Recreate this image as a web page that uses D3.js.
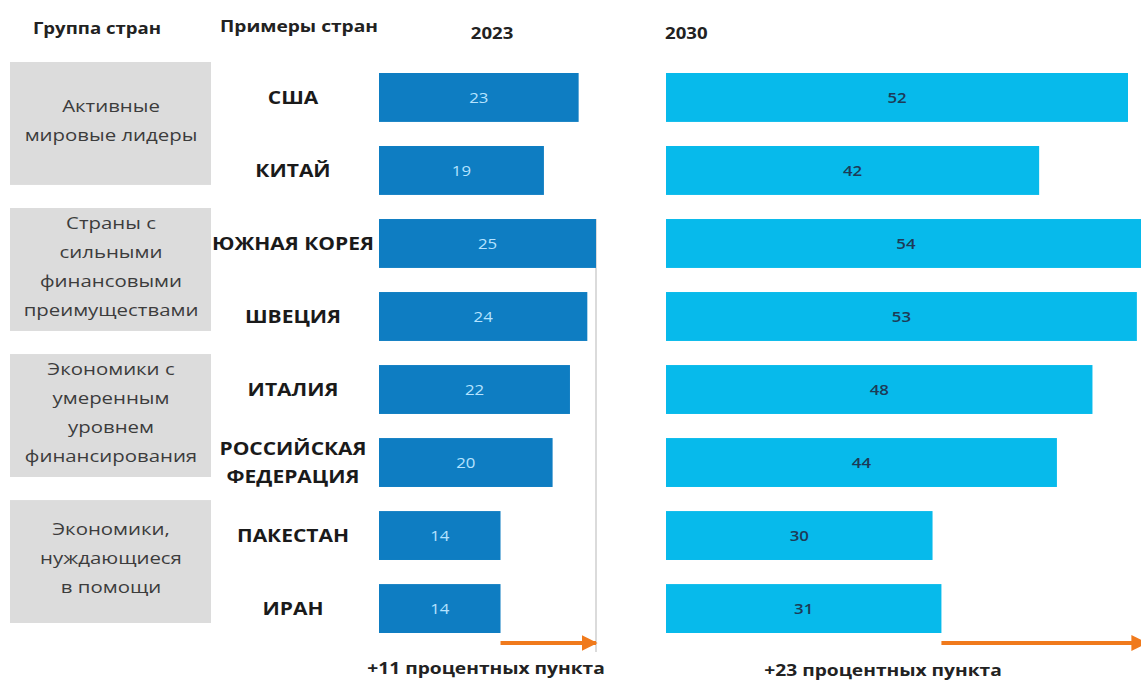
<!DOCTYPE html>
<html>
<head>
<meta charset="utf-8">
<script src="https://cdn.jsdelivr.net/npm/d3@7"></script>
<style>
  body { margin: 0; background: #fff; }
  text { font-family: "Open Sans", sans-serif; }
</style>
</head>
<body>
<div id="wrapper"></div>
<script>
// data
const countries = ["США", "КИТАЙ", "ЮЖНАЯ КОРЕЯ", "ШВЕЦИЯ", "ИТАЛИЯ", "РОССИЙСКАЯ ФЕДЕРАЦИЯ", "ПАКЕСТАН", "ИРАН"]
const countryLines = [["США"], ["КИТАЙ"], ["ЮЖНАЯ КОРЕЯ"], ["ШВЕЦИЯ"], ["ИТАЛИЯ"], ["РОССИЙСКАЯ", "ФЕДЕРАЦИЯ"], ["ПАКЕСТАН"], ["ИРАН"]]
const values2023 = [23, 19, 25, 24, 22, 20, 14, 14]
const values2030 = [52, 42, 54, 53, 48, 44, 30, 31]
const groupLabels = [
  ["Активные", "мировые лидеры"],
  ["Страны с", "сильными", "финансовыми", "преимуществами"],
  ["Экономики с", "умеренным", "уровнем", "финансирования"],
  ["Экономики,", "нуждающиеся", "в помощи"],
]
const headers = ["Группа стран", "Примеры стран", "2023", "2030"]
const deltaLabels = ["+11 процентных пункта", "+23 процентных пункта"]

function drawChart() {
  const width = 1141
  const height = 682
  const stretch = 1.2

  const svg = d3.select("#wrapper")
    .append("svg")
      .attr("width", width)
      .attr("height", height)

  // stretched text helper
  const addText = (sel, x, y, str, size, weight, color, anchor) => sel.append("text")
      .attr("transform", `translate(${x},${y}) scale(${stretch},1)`)
      .attr("text-anchor", anchor || "middle")
      .attr("dominant-baseline", "central")
      .style("font-size", size + "px")
      .style("font-weight", weight)
      .attr("fill", color)
      .text(str)

  // scales
  const yScale = d3.scaleBand()
    .domain(d3.range(countries.length))
    .range([73, 633])
    .paddingInner(0.33)
    .paddingOuter(0)

  const xLeft = d3.scaleLinear()
    .domain([0, 25])
    .range([379, 596])

  const xRight = d3.scaleLinear()
    .domain([0, 52])
    .range([666, 1128])

  // headers
  addText(svg, 97, 28, headers[0], 15.5, 700, "#222")
  addText(svg, 299, 26, headers[1], 16, 700, "#222")
  addText(svg, 492, 33, headers[2], 15.5, 700, "#222")
  addText(svg, 665, 33, headers[3], 15.5, 700, "#222", "start")

  // group boxes
  groupLabels.forEach((lines, i) => {
    const top = yScale(i * 2) - 11
    const bottom = yScale(i * 2 + 1) + yScale.bandwidth() - 10
    svg.append("rect")
        .attr("x", 10)
        .attr("y", top)
        .attr("width", 201)
        .attr("height", bottom - top)
        .attr("fill", "#dcdcdc")
    const lh = 29
    const cy = (top + bottom) / 2 - 4 - (lines.length - 1) * lh / 2
    lines.forEach((l, j) => addText(svg, 111, cy + j * lh, l, 17, 400, "#3c3c3c"))
  })

  // country labels
  countryLines.forEach((lines, i) => {
    const cy = yScale(i) + yScale.bandwidth() / 2 - (lines.length - 1) * 14
    lines.forEach((l, j) => addText(svg, 293, cy + j * 28, l, 17.5, 700, "#1a1a1a"))
  })

  // vertical reference line for 2023
  svg.append("line")
      .attr("x1", xLeft(d3.max(values2023)))
      .attr("x2", xLeft(d3.max(values2023)))
      .attr("y1", yScale(2))
      .attr("y2", 652)
      .attr("stroke", "#cfcfcf")
      .attr("stroke-width", 1.5)

  // bars 2023
  svg.append("g").selectAll("rect")
    .data(values2023)
    .join("rect")
      .attr("x", xLeft(0))
      .attr("y", (d, i) => yScale(i))
      .attr("width", d => xLeft(d) - xLeft(0))
      .attr("height", yScale.bandwidth())
      .attr("fill", "#0e7dc2")

  values2023.forEach((d, i) => addText(svg, (xLeft(0) + xLeft(d)) / 2, yScale(i) + yScale.bandwidth() / 2, d, 14, 400, "#b5e3ff"))

  // bars 2030
  svg.append("g").selectAll("rect")
    .data(values2030)
    .join("rect")
      .attr("x", xRight(0))
      .attr("y", (d, i) => yScale(i))
      .attr("width", d => xRight(d) - xRight(0))
      .attr("height", yScale.bandwidth())
      .attr("fill", "#07baeb")

  values2030.forEach((d, i) => addText(svg, (xRight(0) + xRight(d)) / 2, yScale(i) + yScale.bandwidth() / 2, d, 14, 600, "#1d3b57"))

  // arrows
  svg.append("defs").append("marker")
      .attr("id", "arrow")
      .attr("viewBox", "0 0 10 10")
      .attr("refX", 9)
      .attr("refY", 5)
      .attr("markerWidth", 4)
      .attr("markerHeight", 4)
      .attr("orient", "auto")
    .append("path")
      .attr("d", "M0,0 L10,5 L0,10 Z")
      .attr("fill", "#f07a1c")

  const arrowY = 643
  const lastL = values2023[values2023.length - 1]
  const lastR = values2030[values2030.length - 1]
  svg.append("line")
      .attr("x1", xLeft(lastL))
      .attr("x2", xLeft(d3.max(values2023)))
      .attr("y1", arrowY)
      .attr("y2", arrowY)
      .attr("stroke", "#f07a1c")
      .attr("stroke-width", 4)
      .attr("marker-end", "url(#arrow)")
  svg.append("line")
      .attr("x1", xRight(lastR))
      .attr("x2", xRight(d3.max(values2030)))
      .attr("y1", arrowY)
      .attr("y2", arrowY)
      .attr("stroke", "#f07a1c")
      .attr("stroke-width", 4)
      .attr("marker-end", "url(#arrow)")

  // delta labels
  addText(svg, 486, 668, deltaLabels[0], 16, 700, "#222")
  addText(svg, 883, 670, deltaLabels[1], 16, 700, "#222")
}
drawChart()
</script>
</body>
</html>
